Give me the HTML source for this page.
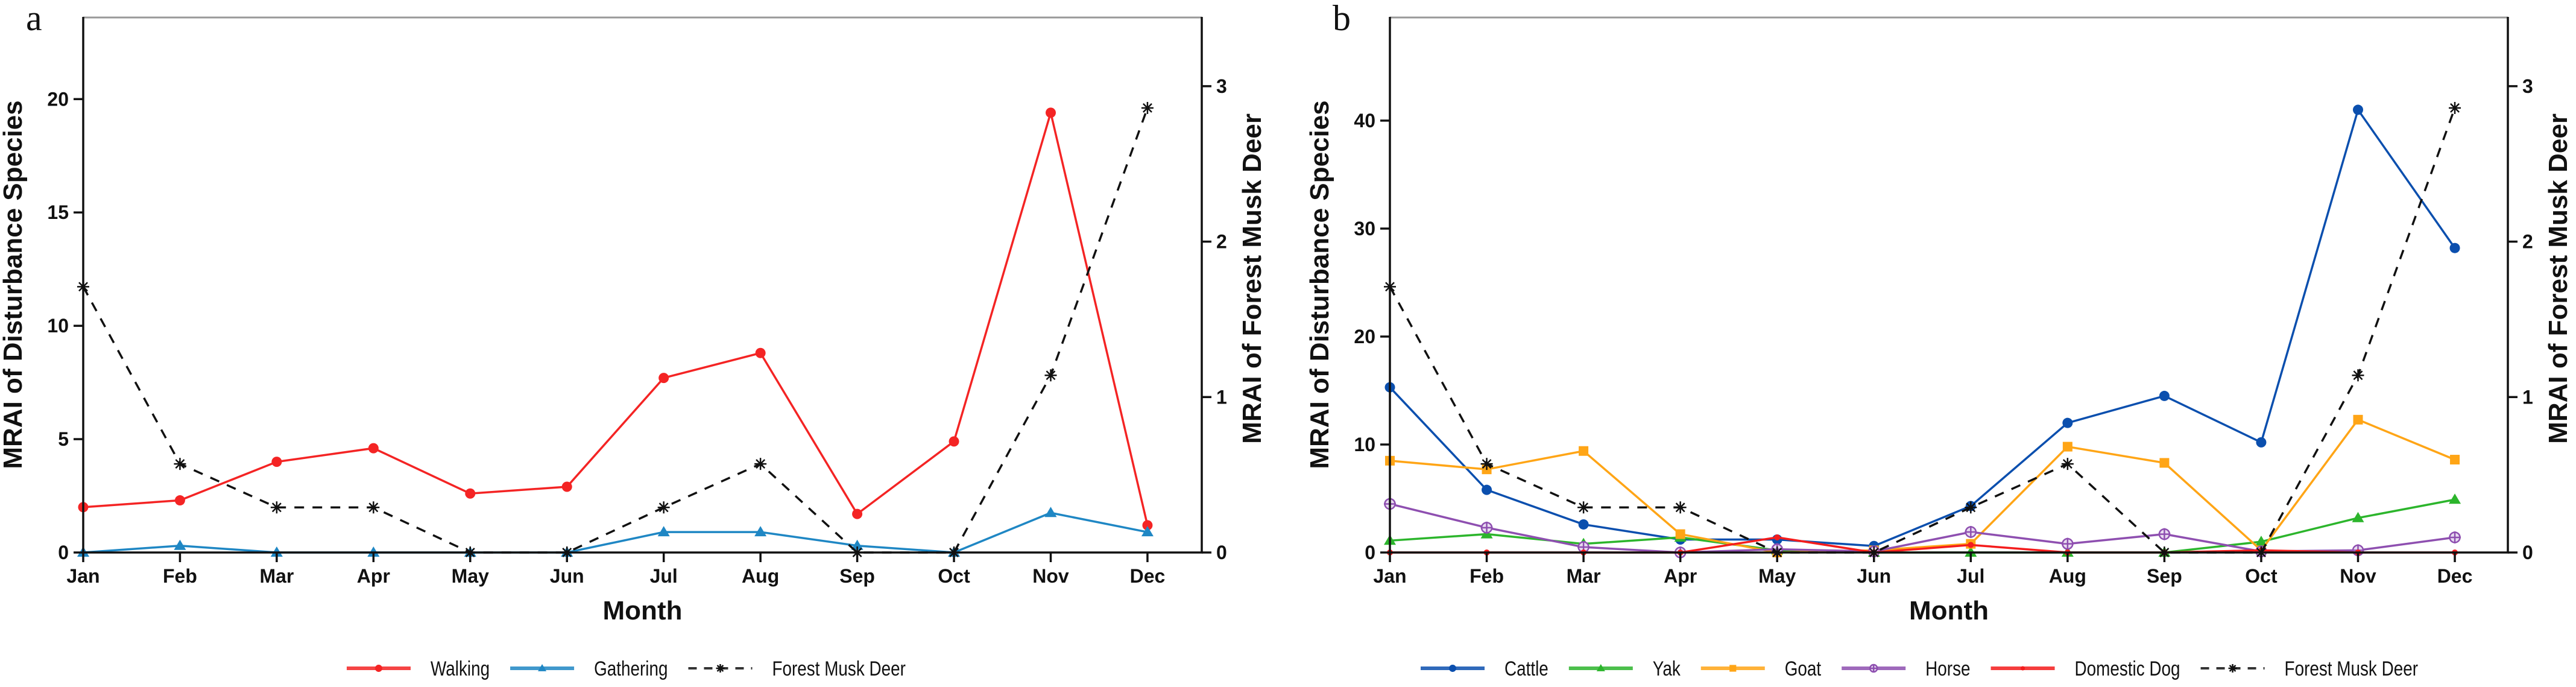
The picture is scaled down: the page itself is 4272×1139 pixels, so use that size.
<!DOCTYPE html>
<html><head><meta charset="utf-8"><style>
html,body{margin:0;padding:0;background:#fff;}
svg{display:block;font-family:"Liberation Sans",Arial,sans-serif;}
</style></head><body>
<svg id="fig" width="4272" height="1139" viewBox="0 0 4272 1139" xmlns="http://www.w3.org/2000/svg"></svg>
<script>
const months = ["Jan","Feb","Mar","Apr","May","Jun","Jul","Aug","Sep","Oct","Nov","Dec"];
const walking = [2.0,2.3,4.0,4.6,2.6,2.9,7.7,8.8,1.7,4.9,19.4,1.2];
const gathering = [0,0.3,0,0,0,0,0.9,0.9,0.3,0,1.75,0.9];
const deer = [1.71,0.57,0.29,0.29,0,0,0.29,0.57,0,0,1.14,2.86];
const cattle = [15.3,5.8,2.6,1.2,1.2,0.6,4.3,12.0,14.5,10.2,41.0,28.2];
const yak = [1.1,1.7,0.8,1.4,0.2,0,0,0,0,1.0,3.2,4.9];
const goat = [8.5,7.7,9.4,1.7,0,0.2,0.8,9.8,8.3,0.2,12.3,8.6];
const horse = [4.5,2.3,0.5,0,0.3,0.1,1.9,0.8,1.7,0.1,0.2,1.4];
const dog = [0,0,0,0,1.4,0,0.7,0,0,0.2,0,0];
const ticksA = [0,5,10,15,20];
const ticksB = [0,10,20,30,40];
const ticksR = [0,1,2,3];

const NS="http://www.w3.org/2000/svg";
const svg=document.getElementById('fig');
function mk(tag,attrs,parent){const e=document.createElementNS(NS,tag);for(const k in attrs)e.setAttribute(k,attrs[k]);(parent||svg).appendChild(e);return e;}

const TOP=29, BOT=916;
function panel(cfg){
  const g=mk('g',{});
  
  
  const L=cfg.left,R=cfg.right,x0=cfg.x0,step=cfg.step;
  const xs=i=>x0+i*step;
  const yl=v=>BOT-v*(BOT-TOP)/cfg.lmax;
  const yr=v=>BOT-v*257.7;
  // series
  cfg.series.forEach(s=>{
    const sg=mk('g',{},g);
    
    
    const yf=s.axis==='r'?yr:yl;
    const pts=s.data.map((v,i)=>[xs(i),yf(v)]);
    const pl=mk('polyline',{points:pts.map(p=>p.join(',')).join(' '),fill:'none',stroke:s.color,"stroke-width":3.5,"stroke-dasharray":s.dash||'none'},sg);
    
    
    pts.forEach(p=>{const m=marker(s.marker,p[0],p[1],s.color,sg,10);
      
      });
  });
  // frame
  const top=mk('line',{x1:L,y1:TOP,x2:R,y2:TOP,stroke:'#999',"stroke-width":3},g);
  
  
  const ax=mk('path',{d:`M${L},${TOP-1}V${BOT}H${R}V${TOP-1}`,fill:'none',stroke:'#111',"stroke-width":3.5},g);
  
  
  cfg.lticks.forEach(v=>{
    const y=yl(v);
    mk('line',{x1:L-16,y1:y,x2:L,y2:y,stroke:'#111',"stroke-width":3.5},g);
    const t=mk('text',{x:L-24,y:y+11,"font-size":32,"font-weight":"bold","text-anchor":"end",fill:'#111'},g);
    t.textContent=v;
    
    
  });
  ticksR.forEach(v=>{
    const y=yr(v);
    mk('line',{x1:R,y1:y,x2:R+16,y2:y,stroke:'#111',"stroke-width":3.5},g);
    const t=mk('text',{x:R+24,y:y+11,"font-size":32,"font-weight":"bold",fill:'#111'},g);
    t.textContent=v;
    
    
  });
  months.forEach((m,i)=>{
    const x=xs(i);
    mk('line',{x1:x,y1:BOT,x2:x,y2:BOT+16,stroke:'#111',"stroke-width":3.5},g);
    const t=mk('text',{x:x,y:966,"font-size":32,"font-weight":"bold","text-anchor":"middle",fill:'#111'},g);
    t.textContent=m;
    
    
  });
  let t=mk('text',{transform:`translate(${L-102},472) rotate(-90)`,"font-size":44,"font-weight":"bold","text-anchor":"middle",fill:'#111'},g);
  t.textContent='MRAI of Disturbance Species';
  
  
  t=mk('text',{transform:`translate(${R+98},462) rotate(-90)`,"font-size":44,"font-weight":"bold","text-anchor":"middle",fill:'#111'},g);
  t.textContent='MRAI of Forest Musk Deer';
  
  
  t=mk('text',{x:(L+R)/2,y:1027,"font-size":44,"font-weight":"bold","text-anchor":"middle",fill:'#111'},g);
  t.textContent='Month';
  
  
  t=mk('text',{x:L-95,y:50,"font-size":60,"font-family":'"Liberation Serif",serif',fill:'#111'},g);
  t.textContent=cfg.letter;
  
  
  // legend
  let lx=cfg.legX;
  cfg.series.forEach(s=>{
    const lg=mk('g',{},g);
    
    
    mk('line',{x1:lx,y1:1108,x2:lx+106,y2:1108,stroke:s.color,"stroke-width":s.dash?4:6,"stroke-dasharray":s.dash?'14,12':'none',opacity:0.85},lg);
    marker(s.marker,lx+53,1108,s.color,lg,7);
    const tt=mk('text',{x:lx+139,y:1120,"font-size":34,fill:'#111',transform:`translate(${(lx+139)*0.18},0) scale(0.82,1)`},lg);
    tt.textContent=s.label;
    const w=tt.getComputedTextLength()*0.82;
    lx=lx+139+w+34;
  });
}
function marker(type,x,y,c,p,r){
  const g=mk('g',{},p);
  if(type==='circle') mk('circle',{cx:x,cy:y,r:r*0.85,fill:c},g);
  else if(type==='tri') mk('path',{d:`M${x},${y-r}L${x+r},${y+r*0.7}L${x-r},${y+r*0.7}Z`,fill:c},g);
  else if(type==='square') mk('rect',{x:x-r*0.8,y:y-r*0.8,width:r*1.6,height:r*1.6,fill:c},g);
  else if(type==='horse'){mk('circle',{cx:x,cy:y,r:r*0.85,fill:'#e8dcf0',stroke:c,"stroke-width":2.5},g);
    mk('path',{d:`M${x-r},${y}H${x+r}M${x},${y-r}V${y+r}`,stroke:c,"stroke-width":2.5},g);}
  else if(type==='dot') mk('circle',{cx:x,cy:y,r:r*0.5,fill:c},g);
  else if(type==='star'){let d='';for(let k=0;k<4;k++){const a=k*Math.PI/4;d+=`M${x-r*Math.cos(a)},${y-r*Math.sin(a)}L${x+r*Math.cos(a)},${y+r*Math.sin(a)}`;}
    mk('path',{d:d,stroke:'#111',"stroke-width":2.5},g);}
  return g;
}
panel({name:'panel-a',letter:'a',left:138,right:1993,x0:138,step:160.45,lmax:23.6,lticks:ticksA,legX:575,
  series:[
   {name:'walking',label:'Walking',data:walking,color:'#f42424',marker:'circle',axis:'l'},
   {name:'gathering',label:'Gathering',data:gathering,color:'#1f87c4',marker:'tri',axis:'l'},
   {name:'deer-a',label:'Forest Musk Deer',data:deer,color:'#111',marker:'star',axis:'r',dash:'16,14'}]});
panel({name:'panel-b',letter:'b',left:2305,right:4159,x0:2305,step:160.55,lmax:49.55,lticks:ticksB,legX:2356,
  series:[
   {name:'cattle',label:'Cattle',data:cattle,color:'#0b4fae',marker:'circle',axis:'l'},
   {name:'yak',label:'Yak',data:yak,color:'#2cb52c',marker:'tri',axis:'l'},
   {name:'goat',label:'Goat',data:goat,color:'#ffa516',marker:'square',axis:'l'},
   {name:'horse',label:'Horse',data:horse,color:'#8e4fb0',marker:'horse',axis:'l'},
   {name:'dog',label:'Domestic Dog',data:dog,color:'#f41c1c',marker:'dot',axis:'l'},
   {name:'deer-b',label:'Forest Musk Deer',data:deer,color:'#111',marker:'star',axis:'r',dash:'16,14'}]});
</script>
</body></html>
